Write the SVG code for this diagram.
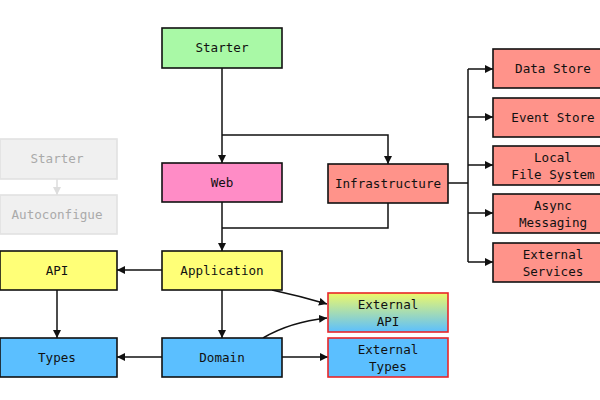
<svg xmlns="http://www.w3.org/2000/svg" width="600" height="400" viewBox="0 0 600 400">
<defs>
<style>
.n{stroke:#111;stroke-width:1.6}
.t{font-family:"DejaVu Sans Mono","Liberation Mono",monospace;font-size:12.6px;fill:#111;text-anchor:middle}
.g rect{fill:#f0f0f0;stroke:#e2e2e2;stroke-width:1.6}
.g text{fill:#aaa}
.c{fill:none;stroke:#111;stroke-width:1.5}
.ext{stroke:#e8262a;stroke-width:1.6}
</style>
<marker id="a" viewBox="0 0 10 10" refX="10" refY="5" markerWidth="8" markerHeight="8" markerUnits="userSpaceOnUse" orient="auto"><path d="M0,0L10,5L0,10z" fill="#111"/></marker>
<marker id="ag" viewBox="0 0 10 10" refX="10" refY="5" markerWidth="8" markerHeight="8" markerUnits="userSpaceOnUse" orient="auto"><path d="M0,0L10,5L0,10z" fill="#ddd"/></marker>
<linearGradient id="grad" x1="0" y1="0" x2="0" y2="1"><stop offset="0" stop-color="#eef86a"/><stop offset="1" stop-color="#5bbfff"/></linearGradient>
</defs>
<g id="connectors">
<path class="c" d="M222,68V163" marker-end="url(#a)"/>
<path class="c" d="M222,135H388V164" marker-end="url(#a)"/>
<path class="c" d="M222,202V251" marker-end="url(#a)"/>
<path class="c" d="M388,203V228H222"/>
<path class="c" d="M448,183H468"/>
<path class="c" d="M468,69V262"/>
<path class="c" d="M468,69H493" marker-end="url(#a)"/>
<path class="c" d="M468,117H493" marker-end="url(#a)"/>
<path class="c" d="M468,165H493" marker-end="url(#a)"/>
<path class="c" d="M468,213H493" marker-end="url(#a)"/>
<path class="c" d="M468,262H493" marker-end="url(#a)"/>
<path class="c" d="M162,270H117" marker-end="url(#a)"/>
<path class="c" d="M222,290V338" marker-end="url(#a)"/>
<path class="c" d="M57,290V338" marker-end="url(#a)"/>
<path class="c" d="M162,357H117" marker-end="url(#a)"/>
<path class="c" d="M272,290Q300,296 327,304" marker-end="url(#a)"/>
<path class="c" d="M263,338Q290,322 327,318" marker-end="url(#a)"/>
<path class="c" d="M282,357H328" marker-end="url(#a)"/>
<path d="M57,179V195" fill="none" stroke="#ddd" stroke-width="1.5" marker-end="url(#ag)"/>
</g>
<g id="starter"><rect class="n" x="162" y="28" width="120" height="40" fill="#a9f9a6"/><text class="t" x="222" y="52">Starter</text></g>
<g id="web"><rect class="n" x="162" y="163" width="120" height="39" fill="#ff8cc6"/><text class="t" x="222" y="187">Web</text></g>
<g id="infrastructure"><rect class="n" x="328" y="164" width="120" height="39" fill="#ff938a"/><text class="t" x="388" y="188">Infrastructure</text></g>
<g id="starter-gray" class="g"><rect x="0" y="139" width="117" height="40"/><text class="t" x="57" y="163">Starter</text></g>
<g id="autoconfigue" class="g"><rect x="0" y="195" width="117" height="39"/><text class="t" x="57" y="219">Autoconfigue</text></g>
<g id="datastore"><rect class="n" x="493" y="49" width="120" height="39" fill="#ff938a"/><text class="t" x="553" y="73">Data Store</text></g>
<g id="eventstore"><rect class="n" x="493" y="98" width="120" height="39" fill="#ff938a"/><text class="t" x="553" y="122">Event Store</text></g>
<g id="localfs"><rect class="n" x="493" y="146" width="120" height="39" fill="#ff938a"/><text class="t" x="553" y="162">Local</text><text class="t" x="553" y="179">File System</text></g>
<g id="async"><rect class="n" x="493" y="194" width="120" height="39" fill="#ff938a"/><text class="t" x="553" y="210">Async</text><text class="t" x="553" y="227">Messaging</text></g>
<g id="extservices"><rect class="n" x="493" y="243" width="120" height="39" fill="#ff938a"/><text class="t" x="553" y="259">External</text><text class="t" x="553" y="276">Services</text></g>
<g id="api"><rect class="n" x="0" y="251" width="117" height="39" fill="#ffff77"/><text class="t" x="57" y="275">API</text></g>
<g id="application"><rect class="n" x="162" y="251" width="120" height="39" fill="#ffff77"/><text class="t" x="222" y="275">Application</text></g>
<g id="types"><rect class="n" x="0" y="338" width="117" height="39" fill="#5bbfff"/><text class="t" x="57" y="362">Types</text></g>
<g id="domain"><rect class="n" x="162" y="338" width="120" height="39" fill="#5bbfff"/><text class="t" x="222" y="362">Domain</text></g>
<g id="extapi"><rect class="ext" x="328" y="293" width="120" height="39" fill="url(#grad)"/><text class="t" x="388" y="309">External</text><text class="t" x="388" y="326">API</text></g>
<g id="exttypes"><rect class="ext" x="328" y="338" width="120" height="39" fill="#5bbfff"/><text class="t" x="388" y="354">External</text><text class="t" x="388" y="371">Types</text></g>
</svg>
